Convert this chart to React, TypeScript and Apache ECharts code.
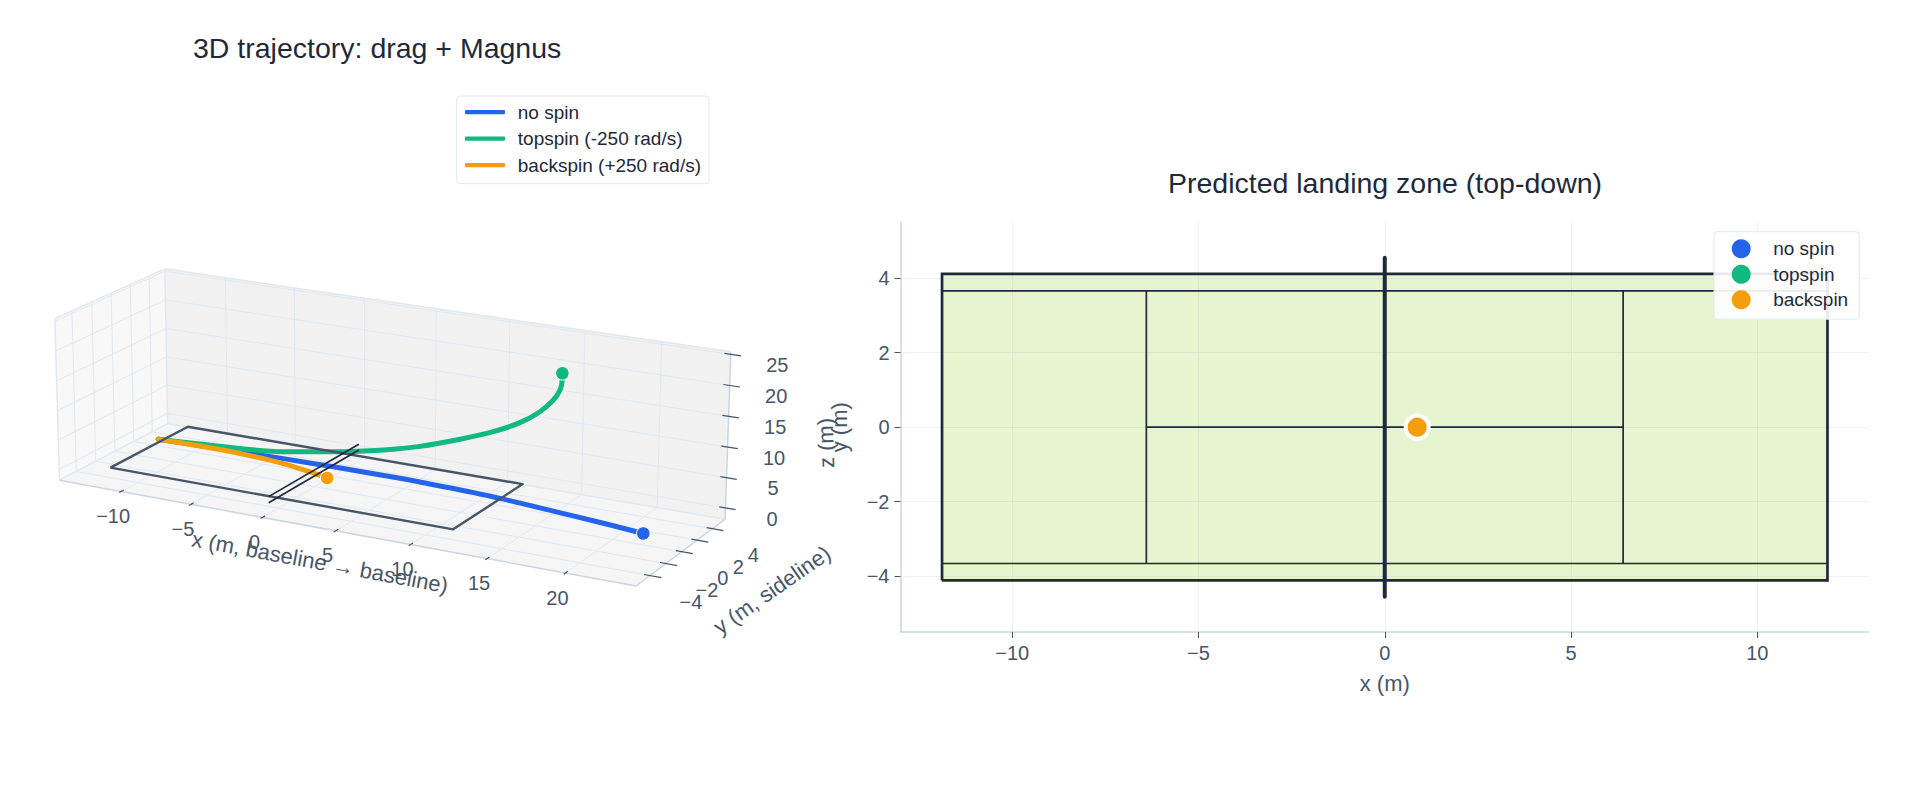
import React, { useEffect, useRef } from "react";
import * as echarts from "echarts";

const FONT = "'Liberation Sans', Arial, sans-serif";
const INK = "#1e293b";
const SLATE = "#475569";
const BLUE = "#2563eb";
const GREEN = "#10b981";
const ORANGE = "#f59e0b";

// Trajectories: [x, y, z] in metres
const noSpinPath = [[-11.25,0,1.58],[-8.19,0,1.74],[-5.3,0,1.88],[-2.21,0,1.99],[1.3,0,2.07],[4.5,0,2.09],[7.27,0,2.05],[11.75,0,1.75],[16.14,0,1.08],[19,0,0.6],[21.95,0,0]];
const topspinPath = [[-11.25,0,1.58],[-8.19,0,2.0],[-5.3,0,2.42],[-2.21,0,3.17],[1.55,0,4.72],[4.76,0,6.34],[7.26,0,7.97],[9.94,0,10.24],[12.14,0,12.38],[13.88,0,14.55],[15.17,0,16.84],[16.02,0,19.06],[16.44,0,20.83],[16.57,0,22.48],[16.57,0,23.55]];
const backspinPath = [[-11.25,0,1.58],[-8.19,0,1.66],[-5.3,0,1.58],[-2.21,0,1.15],[-0.33,0,0.52],[0.87,0,0]];

// Landing points: x, y in metres (no spin and topspin fall outside the axis range)
const landingX = [21.95, 16.57, 0.87];
const landingY = [0, 0, 0];
const landingNames = ["no spin", "topspin", "backspin"];
const landingColors = [BLUE, GREEN, ORANGE];

// Court
const COURT_X = 11.885;
const COURT_Y = 4.115;
const SINGLES_Y = 3.66;
const SERVICE_X = 6.4;
const NET_Y_TOP = 4.55;
const NET_Y_3D = 5.03;
const NET_H_3D = 1.0;

// 3D axes
const xTicks3D = [-10, -5, 0, 5, 10, 15, 20];
const yTicks3D = [-4, -2, 0, 2, 4];
const zTicks3D = [0, 5, 10, 15, 20, 25];
const XL: [number, number] = [-14.5, 24.4];
const YL: [number, number] = [-5.7, 5.7];
const ZL: [number, number] = [-1.85, 25.4];

// 2D axes
const xTicks2D = [-10, -5, 0, 5, 10];
const yTicks2D = [-4, -2, 0, 2, 4];

// Camera: image of the origin, vanishing points and perspective weights
const O = [314.7, 475.8];
const VX = [-6100, -650];
const VY = [2417, -750];
const VZ = [366, 11000];
const AX = -0.00222;
const AY = 0.00426;
const AZ = -0.00056;

function project(p: number[]): number[] {
  const [x, y, z] = p;
  const w = 1 + AX * x + AY * y + AZ * z;
  return [
    (O[0] + AX * VX[0] * x + AY * VY[0] * y + AZ * VZ[0] * z) / w,
    (O[1] + AX * VX[1] * x + AY * VY[1] * y + AZ * VZ[1] * z) / w,
  ];
}

const fmt = (v: number | string) => String(v).replace("-", "\u2212");

function segs(list: number[][][]) {
  const out: any[] = [];
  list.forEach((s, i) => {
    if (i) out.push(["-", "-"]);
    s.forEach((p) => out.push(project(p)));
  });
  return out;
}

function seg2d(list: number[][][]) {
  const out: any[] = [];
  list.forEach((s, i) => {
    if (i) out.push(["-", "-"]);
    s.forEach((p) => out.push(p));
  });
  return out;
}

function line3d(name: string, list: number[][][], color: string, width: number, z: number, cap = "butt") {
  return {
    type: "line", name, xAxisIndex: 0, yAxisIndex: 0, data: segs(list), symbol: "none", silent: true, z, clip: false,
    smooth: false, connectNulls: false,
    lineStyle: { color, width, cap, join: "round" },
    itemStyle: { color },
  };
}

function path3d(name: string, pts: number[][], color: string, z: number) {
  return {
    type: "line", name, xAxisIndex: 0, yAxisIndex: 0, data: pts.map(project), symbol: "none", silent: true, z, clip: false,
    smooth: 0.35,
    lineStyle: { color, width: 5, cap: "round", join: "round" },
    itemStyle: { color },
  };
}

function end3d(name: string, p: number[], color: string, z: number) {
  return {
    type: "scatter", name, xAxisIndex: 0, yAxisIndex: 0, data: [project(p)], symbolSize: 13.5, silent: true, z, clip: false,
    itemStyle: { color, opacity: 1, borderColor: "#ffffff", borderWidth: 1 },
  };
}

function line2d(name: string, list: number[][][], width: number, z: number, cap = "butt") {
  return {
    type: "line", name, xAxisIndex: 1, yAxisIndex: 1, data: seg2d(list), symbol: "none", silent: true, z, clip: false,
    lineStyle: { color: INK, width, cap, join: "miter" },
    itemStyle: { color: INK },
  };
}

function buildOption() {
  const [x0, x1] = XL, [y0, y1] = YL, [z0, z1] = ZL;

  const panes = [
    { fill: "#f5f5f5", pts: [[x0,y0,z0],[x1,y0,z0],[x1,y1,z0],[x0,y1,z0]] },
    { fill: "#f8f8f8", pts: [[x0,y0,z0],[x0,y1,z0],[x0,y1,z1],[x0,y0,z1]] },
    { fill: "#f1f1f1", pts: [[x0,y1,z0],[x1,y1,z0],[x1,y1,z1],[x0,y1,z1]] },
  ];

  const grid3d: number[][][] = [];
  xTicks3D.forEach((t) => {
    grid3d.push([[t,y0,z0],[t,y1,z0]]);
    grid3d.push([[t,y1,z0],[t,y1,z1]]);
  });
  yTicks3D.forEach((t) => {
    grid3d.push([[x0,t,z0],[x1,t,z0]]);
    grid3d.push([[x0,t,z0],[x0,t,z1]]);
  });
  zTicks3D.forEach((t) => {
    grid3d.push([[x0,y0,t],[x0,y1,t]]);
    grid3d.push([[x0,y1,t],[x1,y1,t]]);
  });

  const softEdges = [
    [[x0,y0,z1],[x0,y1,z1]],
    [[x0,y1,z1],[x1,y1,z1]],
    [[x0,y1,z0],[x0,y1,z1]],
    [[x0,y0,z0],[x0,y0,z1]],
    [[x0,y0,z0],[x0,y1,z0]],
    [[x0,y1,z0],[x1,y1,z0]],
  ];
  const axisEdges = [
    [[x0,y0,z0],[x1,y0,z0]],
    [[x1,y0,z0],[x1,y1,z0]],
    [[x1,y1,z0],[x1,y1,z1]],
  ];

  const ticks3d: number[][][] = [];
  xTicks3D.forEach((t) => ticks3d.push([[t,y0+0.28,z0],[t,y0-0.2,z0]]));
  yTicks3D.forEach((t) => ticks3d.push([[x1-0.37,t,z0],[x1+0.7,t,z0]]));
  zTicks3D.forEach((t) => ticks3d.push([[x1-0.4,y1,t],[x1+0.65,y1,t]]));

  const courtRect3d = [[[-COURT_X,-COURT_Y,0],[COURT_X,-COURT_Y,0],[COURT_X,COURT_Y,0],[-COURT_X,COURT_Y,0],[-COURT_X,-COURT_Y,0]]];
  const net3d = [
    [[0,-NET_Y_3D,0],[0,NET_Y_3D,0]],
    [[0,-NET_Y_3D,NET_H_3D],[0,NET_Y_3D,NET_H_3D]],
  ];

  const labelStyle = { fill: SLATE, fontFamily: FONT, fontSize: 20, align: "center", verticalAlign: "middle" };
  const tickText: any[] = [];
  xTicks3D.forEach((t) => {
    const p = project([t, y0, z0]);
    tickText.push({ type: "text", x: p[0] - 8, y: p[1] + 24.5, silent: true, style: { ...labelStyle, text: fmt(t) } });
  });
  yTicks3D.forEach((t) => {
    const p = project([x1, t, z0]);
    tickText.push({ type: "text", x: p[0] + 41, y: p[1] + 26.5, silent: true, style: { ...labelStyle, text: fmt(t) } });
  });
  zTicks3D.forEach((t) => {
    const p = project([x1, y1, t]);
    tickText.push({ type: "text", x: p[0] + 46.5, y: p[1] + 10.8, silent: true, style: { ...labelStyle, text: fmt(t) } });
  });

  const titleText = [
    { text: "x (m, baseline \u2192 baseline)", x: 320, y: 562.3, r: -0.182 },
    { text: "y (m, sideline)", x: 772, y: 590, r: 0.61 },
    { text: "z (m)", x: 826, y: 443, r: 1.6 },
  ].map((t) => ({ type: "text", x: t.x, y: t.y, rotation: t.r, silent: true, style: { ...labelStyle, fontSize: 22, text: t.text } }));

  const court2d = [[[-COURT_X,-COURT_Y],[COURT_X,-COURT_Y],[COURT_X,COURT_Y],[-COURT_X,COURT_Y],[-COURT_X,-COURT_Y]]];
  const inner2d = [
    [[-COURT_X,SINGLES_Y],[COURT_X,SINGLES_Y]],
    [[-COURT_X,-SINGLES_Y],[COURT_X,-SINGLES_Y]],
    [[-SERVICE_X,-SINGLES_Y],[-SERVICE_X,SINGLES_Y]],
    [[SERVICE_X,-SINGLES_Y],[SERVICE_X,SINGLES_Y]],
    [[-SERVICE_X,0],[SERVICE_X,0]],
  ];
  const net2d = [[[0,-NET_Y_TOP],[0,NET_Y_TOP]]];

  const axisBase = {
    type: "value",
    axisLine: { show: true, onZero: false, lineStyle: { color: "#cbd5e1", width: 1.5 } },
    axisTick: { show: true, length: 6, lineStyle: { color: SLATE, width: 1 } },
    axisLabel: { color: SLATE, fontFamily: FONT, fontSize: 20, formatter: (v: number) => fmt(v) },
    splitLine: { show: true, lineStyle: { color: "#eef2f8", width: 1 } },
    nameTextStyle: { color: SLATE, fontFamily: FONT, fontSize: 22 },
  };

  return {
    animation: false,
    backgroundColor: "#ffffff",
    title: [
      { text: "3D trajectory: drag + Magnus", left: 193, top: 33.3, padding: 0, textStyle: { color: INK, fontFamily: FONT, fontSize: 28.5, fontWeight: "normal" } },
      { text: "Predicted landing zone (top-down)", left: 1385, top: 168, padding: 0, textAlign: "center", textStyle: { color: INK, fontFamily: FONT, fontSize: 28.5, fontWeight: "normal" } },
    ],
    legend: [
      {
        left: 456.7, top: 96, orient: "vertical", padding: [6.6, 8, 9, 8.3], itemGap: 7.5, itemWidth: 40, itemHeight: 4.2, icon: "roundRect",
        data: ["no spin", "topspin (-250 rad/s)", "backspin (+250 rad/s)"], selectedMode: false,
        backgroundColor: "#ffffff", borderColor: "#e2e8f0", borderWidth: 1, borderRadius: 3, itemStyle: { borderWidth: 0 },
        textStyle: { color: INK, fontFamily: FONT, fontSize: 19, lineHeight: 18, padding: [0, 0, 0, 7.8] },
      },
      {
        left: 1714, top: 231.7, orient: "vertical", padding: [7.5, 11, 10, 17.7], itemGap: 6.5, itemWidth: 40, itemHeight: 19, icon: "circle",
        data: landingNames, selectedMode: false, z: 20,
        backgroundColor: "rgba(255,255,255,0.9)", borderColor: "#e2e8f0", borderWidth: 1, borderRadius: 3, itemStyle: { borderWidth: 0, opacity: 1 },
        textStyle: { color: INK, fontFamily: FONT, fontSize: 19, lineHeight: 19, padding: [0, 0, 0, 7] },
      },
    ],
    grid: [
      { left: 0, top: 0, width: 1906, height: 805, show: false },
      { left: 900.5, top: 222.4, width: 968.5, height: 409.6, show: false },
    ],
    xAxis: [
      { type: "value", gridIndex: 0, min: 0, max: 1906, show: false },
      {
        ...axisBase, gridIndex: 1, min: -13, max: 13, name: "x (m)", nameLocation: "middle", nameGap: 40,
        axisLabel: { ...axisBase.axisLabel, customValues: xTicks2D, margin: 11 }, axisTick: { ...axisBase.axisTick, customValues: xTicks2D },
      },
    ],
    yAxis: [
      { type: "value", gridIndex: 0, min: 0, max: 805, inverse: true, show: false },
      {
        ...axisBase, gridIndex: 1, min: -5.5, max: 5.5, name: "y (m)", nameLocation: "middle", nameGap: 50,
        axisLabel: { ...axisBase.axisLabel, customValues: yTicks2D, margin: 11 }, axisTick: { ...axisBase.axisTick, customValues: yTicks2D },
      },
    ],
    graphic: { elements: [...tickText, ...titleText] },
    series: [
      path3d("no spin", noSpinPath, BLUE, 10),
      path3d("topspin (-250 rad/s)", topspinPath, GREEN, 11),
      path3d("backspin (+250 rad/s)", backspinPath, ORANGE, 12),
      {
        type: "custom", name: "panes", xAxisIndex: 0, yAxisIndex: 0, silent: true, z: 1, clip: false, data: panes.map((_, i) => [i]),
        renderItem: (params: any, api: any) => {
          const pane = panes[params.dataIndex];
          return { type: "polygon", shape: { points: pane.pts.map((p) => api.coord(project(p))) }, style: { fill: pane.fill } };
        },
      },
      line3d("grid3d", grid3d, "#e2e8f0", 1, 2),
      line3d("softEdges", softEdges, "#e2e8f0", 1.5, 3),
      line3d("axisEdges", axisEdges, "#cbd5e1", 1.5, 3),
      line3d("ticks3d", ticks3d, SLATE, 1.2, 4),
      line3d("court3d", courtRect3d, SLATE, 2.4, 14),
      line3d("net3d", net3d, INK, 1.7, 15),
      end3d("no spin end", noSpinPath[noSpinPath.length - 1], BLUE, 16),
      end3d("topspin end", topspinPath[topspinPath.length - 1], GREEN, 16),
      end3d("backspin end", backspinPath[backspinPath.length - 1], ORANGE, 16),
      {
        type: "custom", name: "court fill", xAxisIndex: 1, yAxisIndex: 1, silent: true, z: 5, clip: false, data: [[-COURT_X, -COURT_Y, COURT_X, COURT_Y]],
        renderItem: (_p: any, api: any) => {
          const a = api.coord([api.value(0), api.value(1)]);
          const b = api.coord([api.value(2), api.value(3)]);
          return { type: "rect", shape: { x: a[0], y: b[1], width: b[0] - a[0], height: a[1] - b[1] }, style: { fill: "rgba(132,204,22,0.2)" } };
        },
      },
      line2d("inner2d", inner2d, 1.7, 6),
      line2d("court2d", court2d, 2.7, 7),
      line2d("net2d", net2d, 4, 8, "round"),
      ...landingNames.map((name, i) => ({
        type: "scatter", name, xAxisIndex: 1, yAxisIndex: 1, data: [[landingX[i], landingY[i]]], symbolSize: 23, silent: true, z: 9 + i, clip: true,
        itemStyle: { color: landingColors[i], opacity: 1, borderColor: "#ffffff", borderWidth: 4 },
      })),
    ],
  };
}

export default function App() {
  const ref = useRef<HTMLDivElement>(null);
  useEffect(() => {
    const chart = echarts.init(ref.current!, undefined, { renderer: "svg" });
    chart.setOption(buildOption() as any);
    return () => chart.dispose();
  }, []);
  return <div ref={ref} style={{ position: "absolute", left: 0, top: 0, width: 1906, height: 805 }} />;
}
